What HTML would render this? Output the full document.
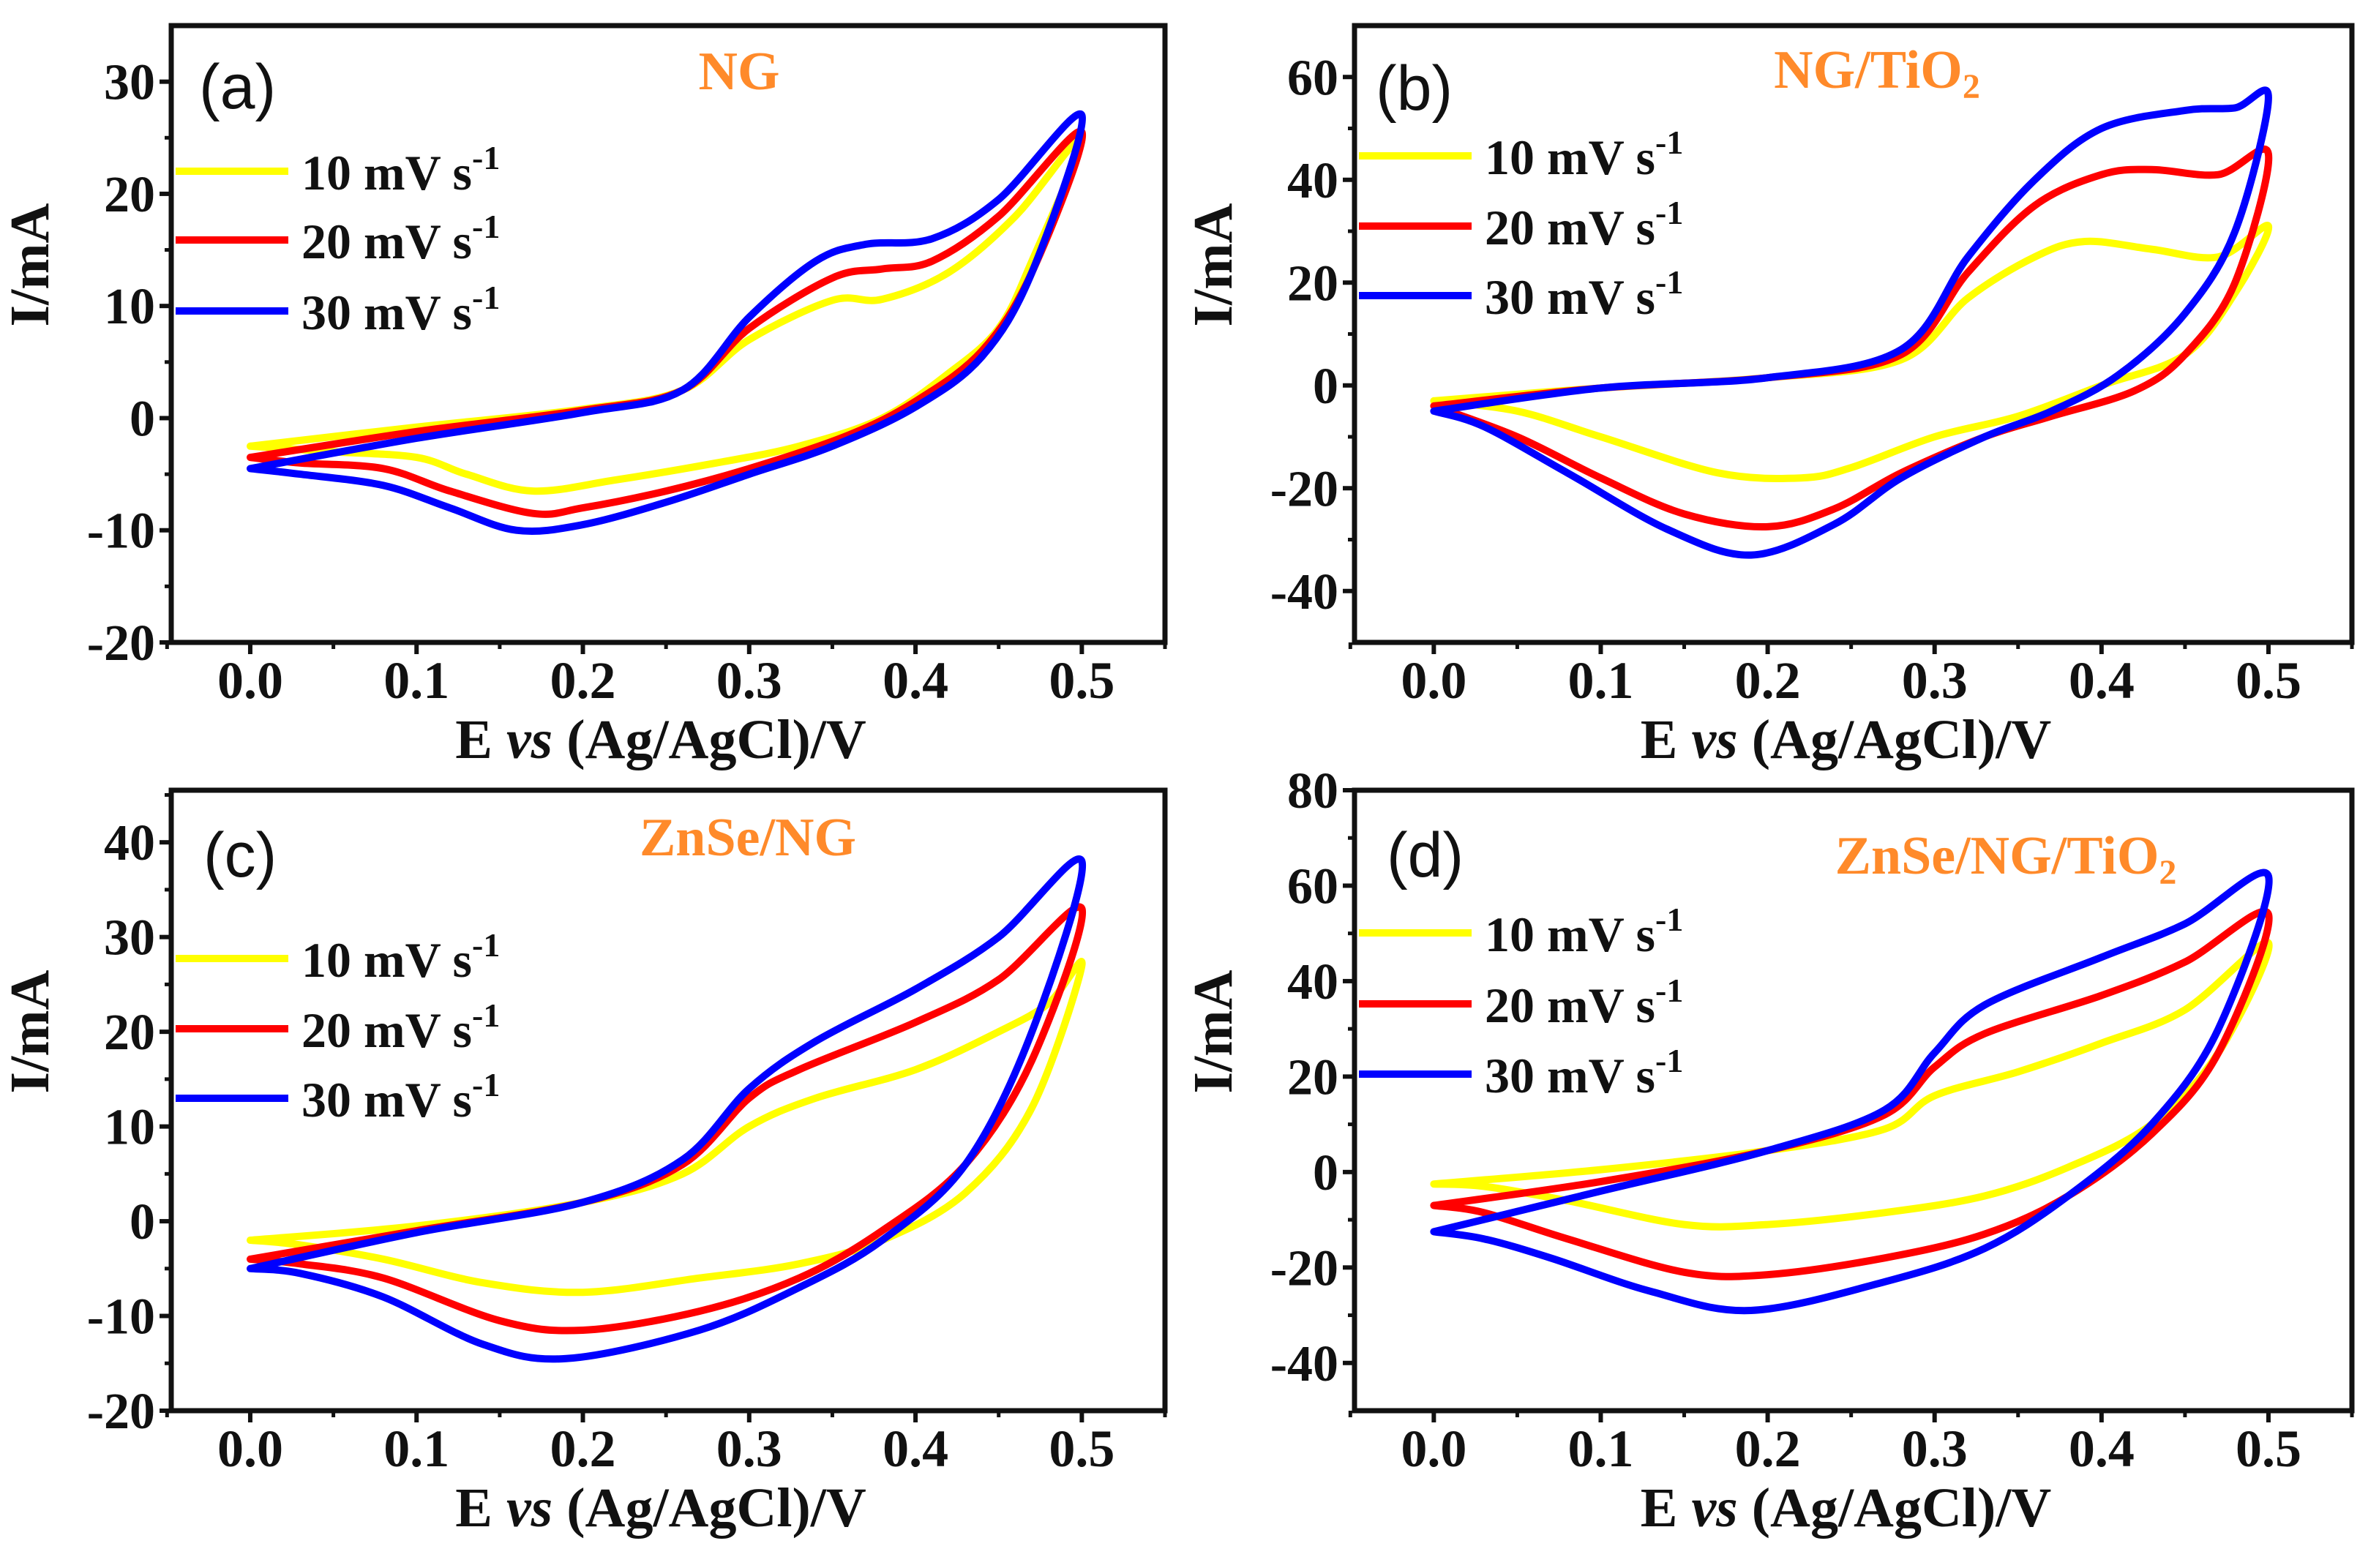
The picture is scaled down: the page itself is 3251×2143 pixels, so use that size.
<!DOCTYPE html>
<html><head><meta charset="utf-8"><style>
html,body{margin:0;padding:0;background:#fff;}
svg{display:block;}
text{font-family:"Liberation Serif",serif;font-weight:bold;fill:#111;}
.pl{font-family:"Liberation Sans",sans-serif;font-weight:normal;}
</style></head><body>
<svg id="fig" width="3251" height="2143" viewBox="0 0 3251 2143" xmlns="http://www.w3.org/2000/svg"></svg>
<script>
// Panel (a) NG
const aYelX=[0,0.1,0.2,0.26,0.3,0.35,0.38,0.42,0.46,0.5, 0.47,0.45,0.42,0.38,0.33,0.28,0.22,0.17,0.13,0.1,0.05,0];
const aYelY=[-2.5,-0.8,0.8,2.5,7,10.5,10.6,13,18,25, 14,8,4,0,-2.5,-4,-5.5,-6.5,-5,-3.5,-3,-2.5];
const aRedX=[0,0.1,0.2,0.26,0.3,0.35,0.38,0.41,0.45,0.5, 0.47,0.44,0.4,0.36,0.3,0.25,0.2,0.17,0.12,0.08,0.03,0];
const aRedY=[-3.5,-1.2,0.7,2.5,8,12.5,13.3,14,18,25.5, 13,6,1.5,-1.5,-4.5,-6.5,-8,-8.5,-6.5,-4.5,-4,-3.5];
const aBluX=[0,0.1,0.2,0.26,0.3,0.34,0.37,0.41,0.45,0.5, 0.47,0.44,0.4,0.35,0.3,0.25,0.2,0.16,0.12,0.08,0.03,0];
const aBluY=[-4.5,-1.8,0.5,2.5,9,14,15.5,16,19.5,27, 13,5.5,1,-2.5,-5,-7.5,-9.5,-10,-8,-6,-5,-4.5];
// Panel (b) NG/TiO2
const bYelX=[0,0.1,0.2,0.28,0.32,0.36,0.39,0.43,0.47,0.5, 0.48,0.45,0.4,0.35,0.3,0.25,0.22,0.17,0.1,0.05,0];
const bYelY=[-3,-0.5,1.5,5,17,25,28,26.5,25,31, 18,6,0,-6,-10,-16,-18,-17,-10,-5,-3];
const bRedX=[0,0.1,0.2,0.28,0.32,0.36,0.4,0.43,0.47,0.5, 0.48,0.45,0.42,0.37,0.33,0.28,0.24,0.2,0.15,0.1,0.05,0];
const bRedY=[-4,-0.5,1.5,6,22,35,41,42,41,45, 20,6,-1,-6,-10,-17,-24,-27.5,-25,-18,-10,-4];
const bBluX=[0,0.1,0.2,0.28,0.32,0.36,0.4,0.45,0.48,0.5, 0.48,0.45,0.41,0.37,0.33,0.28,0.24,0.19,0.14,0.08,0.03,0];
const bBluY=[-5,-0.5,1.5,7,25,40,50,53.5,54,56, 30,14,2,-5,-10,-18,-27,-33,-28,-17,-8,-5];
// Panel (c) ZnSe/NG
const cYelX=[0,0.1,0.2,0.26,0.3,0.34,0.4,0.45,0.48,0.5, 0.47,0.43,0.38,0.33,0.27,0.2,0.14,0.08,0.03,0];
const cYelY=[-2,-0.5,2,5,10,13,16,20,23,27, 12,3,-2,-4.5,-6,-7.5,-6.5,-4,-2.5,-2];
const cRedX=[0,0.1,0.2,0.26,0.3,0.33,0.4,0.45,0.5, 0.47,0.43,0.38,0.33,0.27,0.2,0.15,0.08,0.03,0];
const cRedY=[-4,-1,2,6,13,16,21,25.5,33, 17,6,-1,-6,-9.5,-11.5,-10.5,-6,-4.5,-4];
const cBluX=[0,0.1,0.2,0.26,0.3,0.34,0.4,0.45,0.5, 0.47,0.43,0.38,0.33,0.27,0.19,0.14,0.08,0.03,0];
const cBluY=[-5,-1.2,2,6.5,14,19,24.5,30,38, 20,6,-2,-7,-11.5,-14.5,-13,-8,-5.5,-5];
// Panel (d) ZnSe/NG/TiO2
const dYelX=[0,0.1,0.2,0.27,0.3,0.35,0.4,0.45,0.5, 0.47,0.43,0.38,0.33,0.27,0.2,0.15,0.08,0.03,0];
const dYelY=[-2.5,0.5,4.5,9,16,21,27,34,48, 25,10,1,-5,-8.5,-11,-11,-6,-3,-2.5];
const dRedX=[0,0.1,0.2,0.27,0.3,0.33,0.4,0.45,0.5, 0.47,0.43,0.38,0.33,0.27,0.2,0.15,0.08,0.03,0];
const dRedY=[-7,-2,4.5,12,22,29,37,44,54, 25,8,-5,-13,-18,-21.5,-21,-14,-8.5,-7];
const dBluX=[0,0.1,0.2,0.27,0.3,0.33,0.4,0.45,0.5, 0.47,0.43,0.38,0.33,0.27,0.19,0.13,0.07,0.03,0];
const dBluY=[-12.5,-4,4.5,13,25,35,45,52,62, 30,10,-5,-16,-23,-29,-25,-18,-14,-12.5];

const xTicks=[0,0.1,0.2,0.3,0.4,0.5];
const xTickLabels=["0.0","0.1","0.2","0.3","0.4","0.5"];
const aYTicks=[-20,-10,0,10,20,30];
const bYTicks=[-40,-20,0,20,40,60];
const cYTicks=[-20,-10,0,10,20,30,40];
const dYTicks=[-40,-20,0,20,40,60,80];
const legendLabels=["10 mV s","20 mV s","30 mV s"];
const colors=["#ffff00","#ff0000","#0000ff"];

const NS="http://www.w3.org/2000/svg";
const svg=document.getElementById('fig');
function mk(tag,attrs,parent){const e=document.createElementNS(NS,tag);for(const k in attrs)e.setAttribute(k,attrs[k]);(parent||svg).appendChild(e);return e;}
function smooth(pts){
  let d="M"+pts[0][0].toFixed(1)+","+pts[0][1].toFixed(1);
  for(let i=0;i<pts.length-1;i++){
    const p0=pts[Math.max(i-1,0)],p1=pts[i],p2=pts[i+1],p3=pts[Math.min(i+2,pts.length-1)];
    const c1=[p1[0]+(p2[0]-p0[0])/6,p1[1]+(p2[1]-p0[1])/6];
    const c2=[p2[0]-(p3[0]-p1[0])/6,p2[1]-(p3[1]-p1[1])/6];
    d+="C"+c1[0].toFixed(1)+","+c1[1].toFixed(1)+" "+c2[0].toFixed(1)+","+c2[1].toFixed(1)+" "+p2[0].toFixed(1)+","+p2[1].toFixed(1);
  }
  return d;
}
const panels=[
 {id:'a',L:234,R:1592,T:35,B:878,ymin:-20,ymax:35,yt:aYTicks,minorY:5,series:[[aYelX,aYelY],[aRedX,aRedY],[aBluX,aBluY]],
  lab:"(a)",labX:272,labY:148,title:"NG",tx:1010,ty:122,legY:[234,328,425],yl:362},
 {id:'b',L:1851,R:3214,T:35,B:878,ymin:-50,ymax:70,yt:bYTicks,minorY:10,series:[[bYelX,bYelY],[bRedX,bRedY],[bBluX,bBluY]],
  lab:"(b)",labX:1880,labY:150,title:"NG/TiO",sub:"2",tx:2565,ty:120,legY:[213,309,404],yl:362},
 {id:'c',L:234,R:1592,T:1080,B:1928,ymin:-20,ymax:45.5,yt:cYTicks,minorY:5,series:[[cYelX,cYelY],[cRedX,cRedY],[cBluX,cBluY]],
  lab:"(c)",labX:278,labY:1198,title:"ZnSe/NG",tx:1022,ty:1169,legY:[1310,1406,1501],yl:1410},
 {id:'d',L:1851,R:3214,T:1080,B:1928,ymin:-50,ymax:80,yt:dYTicks,minorY:10,series:[[dYelX,dYelY],[dRedX,dRedY],[dBluX,dBluY]],
  lab:"(d)",labX:1895,labY:1198,title:"ZnSe/NG/TiO",sub:"2",tx:2741,ty:1194,legY:[1275,1372,1468],yl:1410}
];
const XMIN=-0.0475,XMAX=0.55;
panels.forEach(p=>{
  const g=mk('g',{});
  
  
  const sx=v=>p.L+(v-XMIN)/(XMAX-XMIN)*(p.R-p.L);
  const sy=v=>p.B-(v-p.ymin)/(p.ymax-p.ymin)*(p.B-p.T);
  p.series.forEach((s,i)=>{
    const pts=s[0].map((x,k)=>[sx(x),sy(s[1][k])]);
    const path=mk('path',{d:smooth(pts),fill:'none',stroke:colors[i],'stroke-width':10,'stroke-linejoin':'round','stroke-linecap':'round'},g);
    
    
  });
  const fr=mk('rect',{x:p.L,y:p.T,width:p.R-p.L,height:p.B-p.T,fill:'none',stroke:'#111','stroke-width':7},g);
  
  
  xTicks.forEach((t,i)=>{
    mk('line',{x1:sx(t),x2:sx(t),y1:p.B,y2:p.B+16,stroke:'#111','stroke-width':6},g);
    mk('line',{x1:sx(t+0.05),x2:sx(t+0.05),y1:p.B,y2:p.B+9,stroke:'#111','stroke-width':5},g);
    const tl=mk('text',{x:sx(t),y:p.B+76,'text-anchor':'middle','font-size':72},g);
    tl.textContent=xTickLabels[i];
    
    
  });
  mk('line',{x1:sx(-0.05),x2:sx(-0.05),y1:p.B,y2:p.B+9,stroke:'#111','stroke-width':5},g);
  p.yt.forEach(t=>{
    mk('line',{x1:p.L-16,x2:p.L,y1:sy(t),y2:sy(t),stroke:'#111','stroke-width':6},g);
    if(sy(t+p.minorY)>p.T) mk('line',{x1:p.L-9,x2:p.L,y1:sy(t+p.minorY),y2:sy(t+p.minorY),stroke:'#111','stroke-width':5},g);
    const tl=mk('text',{x:p.L-22,y:sy(t)+24,'text-anchor':'end','font-size':70},g);
    tl.textContent=String(t);
    
    
  });
  const xt=mk('text',{x:(p.L+p.R)/2-10,y:p.B+158,'text-anchor':'middle','font-size':76},g);
  xt.innerHTML='E <tspan font-style="italic">vs</tspan> (Ag/AgCl)/V';
  
  
  const yx=p.L-168;
  const ytt=mk('text',{x:yx,y:p.yl,'text-anchor':'middle','font-size':76,transform:'rotate(-90 '+yx+' '+p.yl+')'},g);
  ytt.textContent='I/mA';
  
  
  const pl=mk('text',{x:p.labX,y:p.labY,'font-size':86,class:'pl'},g);
  pl.textContent=p.lab;
  
  
  const tt=mk('text',{x:p.tx,y:p.ty,'text-anchor':'middle','font-size':74,style:'fill:#ff8a2a'},g);
  tt.innerHTML=p.title+(p.sub?'<tspan font-size="48" dy="14">'+p.sub+'</tspan>':'');
  
  
  legendLabels.forEach((lbl,i)=>{
    const ly=p.legY[i];
    const le=mk('g',{},g);
    
    
    mk('line',{x1:p.L+6,x2:p.L+160,y1:ly,y2:ly,stroke:colors[i],'stroke-width':10},le);
    const lt=mk('text',{x:p.L+178,y:ly+25,'font-size':68},le);
    lt.innerHTML=lbl+'<tspan font-size="46" dy="-28">-1</tspan>';
  });
});
</script>
</body></html>
